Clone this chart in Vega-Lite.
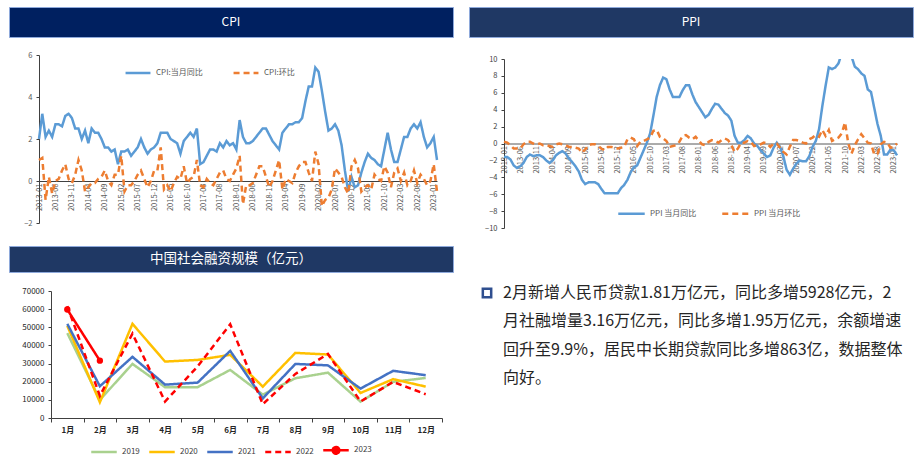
{
 "$schema": "https://vega.github.io/schema/vega-lite/v6.json",
 "padding": {"left": 8, "top": 6, "right": 0, "bottom": 0},
 "background": "white",
 "config": {"font": "Noto Sans CJK SC", "view": {"stroke": null}, "axis": {"labelFont": "Noto Sans CJK SC", "grid": false, "title": null}, "legend": {"labelFont": "Noto Sans CJK SC"}},
 "datasets": {
  "titles": [{"panel": "cpi", "title": "CPI"}, {"panel": "ppi", "title": "PPI"}, {"panel": "tsf", "title": "中国社会融资规模（亿元）"}],
  "cpi": [
   {"m":"2013-01","CPI:当月同比":2.0,"CPI:环比":1.0},{"m":"2013-02","CPI:当月同比":3.2,"CPI:环比":1.1},{"m":"2013-03","CPI:当月同比":2.1,"CPI:环比":-0.9},{"m":"2013-04","CPI:当月同比":2.4,"CPI:环比":0.2},{"m":"2013-05","CPI:当月同比":2.1,"CPI:环比":-0.6},{"m":"2013-06","CPI:当月同比":2.7,"CPI:环比":0.0},{"m":"2013-07","CPI:当月同比":2.7,"CPI:环比":0.1},{"m":"2013-08","CPI:当月同比":2.6,"CPI:环比":0.5},{"m":"2013-09","CPI:当月同比":3.1,"CPI:环比":0.8},{"m":"2013-10","CPI:当月同比":3.2,"CPI:环比":0.1},{"m":"2013-11","CPI:当月同比":3.0,"CPI:环比":-0.1},{"m":"2013-12","CPI:当月同比":2.5,"CPI:环比":0.3},
   {"m":"2014-01","CPI:当月同比":2.5,"CPI:环比":1.0},{"m":"2014-02","CPI:当月同比":2.0,"CPI:环比":0.5},{"m":"2014-03","CPI:当月同比":2.4,"CPI:环比":-0.5},{"m":"2014-04","CPI:当月同比":1.8,"CPI:环比":-0.3},{"m":"2014-05","CPI:当月同比":2.5,"CPI:环比":-0.1},{"m":"2014-06","CPI:当月同比":2.3,"CPI:环比":-0.1},{"m":"2014-07","CPI:当月同比":2.3,"CPI:环比":0.1},{"m":"2014-08","CPI:当月同比":2.0,"CPI:环比":0.2},{"m":"2014-09","CPI:当月同比":1.6,"CPI:环比":0.5},{"m":"2014-10","CPI:当月同比":1.6,"CPI:环比":0.0},{"m":"2014-11","CPI:当月同比":1.4,"CPI:环比":-0.2},{"m":"2014-12","CPI:当月同比":1.5,"CPI:环比":0.3},
   {"m":"2015-01","CPI:当月同比":0.8,"CPI:环比":0.3},{"m":"2015-02","CPI:当月同比":1.4,"CPI:环比":1.2},{"m":"2015-03","CPI:当月同比":1.4,"CPI:环比":-0.5},{"m":"2015-04","CPI:当月同比":1.5,"CPI:环比":-0.2},{"m":"2015-05","CPI:当月同比":1.2,"CPI:环比":-0.2},{"m":"2015-06","CPI:当月同比":1.4,"CPI:环比":0.0},{"m":"2015-07","CPI:当月同比":1.6,"CPI:环比":0.3},{"m":"2015-08","CPI:当月同比":2.0,"CPI:环比":0.5},{"m":"2015-09","CPI:当月同比":1.6,"CPI:环比":0.1},{"m":"2015-10","CPI:当月同比":1.3,"CPI:环比":-0.3},{"m":"2015-11","CPI:当月同比":1.5,"CPI:环比":0.0},{"m":"2015-12","CPI:当月同比":1.6,"CPI:环比":0.5},
   {"m":"2016-01","CPI:当月同比":1.8,"CPI:环比":0.5},{"m":"2016-02","CPI:当月同比":2.3,"CPI:环比":1.6},{"m":"2016-03","CPI:当月同比":2.3,"CPI:环比":-0.4},{"m":"2016-04","CPI:当月同比":2.3,"CPI:环比":-0.2},{"m":"2016-05","CPI:当月同比":2.0,"CPI:环比":-0.5},{"m":"2016-06","CPI:当月同比":1.9,"CPI:环比":-0.1},{"m":"2016-07","CPI:当月同比":1.8,"CPI:环比":0.2},{"m":"2016-08","CPI:当月同比":1.3,"CPI:环比":0.1},{"m":"2016-09","CPI:当月同比":1.9,"CPI:环比":0.7},{"m":"2016-10","CPI:当月同比":2.1,"CPI:环比":-0.1},{"m":"2016-11","CPI:当月同比":2.3,"CPI:环比":0.1},{"m":"2016-12","CPI:当月同比":2.1,"CPI:环比":0.2},
   {"m":"2017-01","CPI:当月同比":2.5,"CPI:环比":1.0},{"m":"2017-02","CPI:当月同比":0.8,"CPI:环比":-0.2},{"m":"2017-03","CPI:当月同比":0.9,"CPI:环比":-0.3},{"m":"2017-04","CPI:当月同比":1.2,"CPI:环比":0.1},{"m":"2017-05","CPI:当月同比":1.5,"CPI:环比":-0.1},{"m":"2017-06","CPI:当月同比":1.5,"CPI:环比":-0.2},{"m":"2017-07","CPI:当月同比":1.4,"CPI:环比":0.1},{"m":"2017-08","CPI:当月同比":1.8,"CPI:环比":0.4},{"m":"2017-09","CPI:当月同比":1.6,"CPI:环比":0.5},{"m":"2017-10","CPI:当月同比":1.9,"CPI:环比":0.1},{"m":"2017-11","CPI:当月同比":1.7,"CPI:环比":0.0},{"m":"2017-12","CPI:当月同比":1.8,"CPI:环比":0.3},
   {"m":"2018-01","CPI:当月同比":1.5,"CPI:环比":0.6},{"m":"2018-02","CPI:当月同比":2.9,"CPI:环比":1.2},{"m":"2018-03","CPI:当月同比":2.1,"CPI:环比":-1.1},{"m":"2018-04","CPI:当月同比":1.8,"CPI:环比":-0.2},{"m":"2018-05","CPI:当月同比":1.8,"CPI:环比":-0.2},{"m":"2018-06","CPI:当月同比":1.9,"CPI:环比":-0.1},{"m":"2018-07","CPI:当月同比":2.1,"CPI:环比":0.3},{"m":"2018-08","CPI:当月同比":2.3,"CPI:环比":0.7},{"m":"2018-09","CPI:当月同比":2.5,"CPI:环比":0.7},{"m":"2018-10","CPI:当月同比":2.5,"CPI:环比":0.2},{"m":"2018-11","CPI:当月同比":2.2,"CPI:环比":-0.3},{"m":"2018-12","CPI:当月同比":1.9,"CPI:环比":0.0},
   {"m":"2019-01","CPI:当月同比":1.7,"CPI:环比":0.5},{"m":"2019-02","CPI:当月同比":1.5,"CPI:环比":1.0},{"m":"2019-03","CPI:当月同比":2.3,"CPI:环比":-0.4},{"m":"2019-04","CPI:当月同比":2.5,"CPI:环比":0.1},{"m":"2019-05","CPI:当月同比":2.7,"CPI:环比":0.0},{"m":"2019-06","CPI:当月同比":2.7,"CPI:环比":-0.1},{"m":"2019-07","CPI:当月同比":2.8,"CPI:环比":0.4},{"m":"2019-08","CPI:当月同比":2.8,"CPI:环比":0.7},{"m":"2019-09","CPI:当月同比":3.0,"CPI:环比":0.9},{"m":"2019-10","CPI:当月同比":3.8,"CPI:环比":0.9},{"m":"2019-11","CPI:当月同比":4.5,"CPI:环比":0.4},{"m":"2019-12","CPI:当月同比":4.5,"CPI:环比":0.0},
   {"m":"2020-01","CPI:当月同比":5.4,"CPI:环比":1.4},{"m":"2020-02","CPI:当月同比":5.2,"CPI:环比":0.8},{"m":"2020-03","CPI:当月同比":4.3,"CPI:环比":-1.2},{"m":"2020-04","CPI:当月同比":3.3,"CPI:环比":-0.9},{"m":"2020-05","CPI:当月同比":2.4,"CPI:环比":-0.8},{"m":"2020-06","CPI:当月同比":2.5,"CPI:环比":-0.4},{"m":"2020-07","CPI:当月同比":2.7,"CPI:环比":0.6},{"m":"2020-08","CPI:当月同比":2.4,"CPI:环比":0.4},{"m":"2020-09","CPI:当月同比":1.7,"CPI:环比":0.2},{"m":"2020-10","CPI:当月同比":0.5,"CPI:环比":-0.3},{"m":"2020-11","CPI:当月同比":-0.5,"CPI:环比":-0.6},{"m":"2020-12","CPI:当月同比":0.2,"CPI:环比":0.7},
   {"m":"2021-01","CPI:当月同比":-0.3,"CPI:环比":1.0},{"m":"2021-02","CPI:当月同比":-0.2,"CPI:环比":0.6},{"m":"2021-03","CPI:当月同比":0.4,"CPI:环比":-0.5},{"m":"2021-04","CPI:当月同比":0.9,"CPI:环比":-0.3},{"m":"2021-05","CPI:当月同比":1.3,"CPI:环比":-0.2},{"m":"2021-06","CPI:当月同比":1.1,"CPI:环比":-0.4},{"m":"2021-07","CPI:当月同比":1.0,"CPI:环比":0.3},{"m":"2021-08","CPI:当月同比":0.8,"CPI:环比":0.1},{"m":"2021-09","CPI:当月同比":0.7,"CPI:环比":0.0},{"m":"2021-10","CPI:当月同比":1.5,"CPI:环比":0.7},{"m":"2021-11","CPI:当月同比":2.3,"CPI:环比":0.4},{"m":"2021-12","CPI:当月同比":1.5,"CPI:环比":-0.3},
   {"m":"2022-01","CPI:当月同比":0.9,"CPI:环比":0.4},{"m":"2022-02","CPI:当月同比":0.9,"CPI:环比":0.6},{"m":"2022-03","CPI:当月同比":1.5,"CPI:环比":0.0},{"m":"2022-04","CPI:当月同比":2.1,"CPI:环比":0.4},{"m":"2022-05","CPI:当月同比":2.1,"CPI:环比":-0.2},{"m":"2022-06","CPI:当月同比":2.5,"CPI:环比":0.0},{"m":"2022-07","CPI:当月同比":2.7,"CPI:环比":0.5},{"m":"2022-08","CPI:当月同比":2.5,"CPI:环比":-0.1},{"m":"2022-09","CPI:当月同比":2.8,"CPI:环比":0.3},{"m":"2022-10","CPI:当月同比":2.1,"CPI:环比":0.1},{"m":"2022-11","CPI:当月同比":1.6,"CPI:环比":-0.2},{"m":"2022-12","CPI:当月同比":1.8,"CPI:环比":0.0},
   {"m":"2023-01","CPI:当月同比":2.1,"CPI:环比":0.8},{"m":"2023-02","CPI:当月同比":1.0,"CPI:环比":-0.5}
  ],
  "ppi": [
   {"m":"2013-01","PPI 当月同比":-1.6,"PPI 当月环比":0.2},{"m":"2013-02","PPI 当月同比":-1.6,"PPI 当月环比":0.1},{"m":"2013-03","PPI 当月同比":-1.9,"PPI 当月环比":-0.2},{"m":"2013-04","PPI 当月同比":-2.6,"PPI 当月环比":-0.6},{"m":"2013-05","PPI 当月同比":-2.9,"PPI 当月环比":-0.6},{"m":"2013-06","PPI 当月同比":-2.7,"PPI 当月环比":-0.6},{"m":"2013-07","PPI 当月同比":-2.3,"PPI 当月环比":-0.1},{"m":"2013-08","PPI 当月同比":-1.6,"PPI 当月环比":0.2},{"m":"2013-09","PPI 当月同比":-1.3,"PPI 当月环比":0.2},{"m":"2013-10","PPI 当月同比":-1.5,"PPI 当月环比":0.0},{"m":"2013-11","PPI 当月同比":-1.4,"PPI 当月环比":-0.1},{"m":"2013-12","PPI 当月同比":-1.4,"PPI 当月环比":0.0},
   {"m":"2014-01","PPI 当月同比":-1.6,"PPI 当月环比":-0.2},{"m":"2014-02","PPI 当月同比":-2.0,"PPI 当月环比":-0.2},{"m":"2014-03","PPI 当月同比":-2.3,"PPI 当月环比":-0.3},{"m":"2014-04","PPI 当月同比":-2.0,"PPI 当月环比":-0.4},{"m":"2014-05","PPI 当月同比":-1.4,"PPI 当月环比":-0.1},{"m":"2014-06","PPI 当月同比":-1.1,"PPI 当月环比":0.0},{"m":"2014-07","PPI 当月同比":-0.9,"PPI 当月环比":-0.1},{"m":"2014-08","PPI 当月同比":-1.2,"PPI 当月环比":-0.2},{"m":"2014-09","PPI 当月同比":-1.8,"PPI 当月环比":-0.4},{"m":"2014-10","PPI 当月同比":-2.2,"PPI 当月环比":-0.4},{"m":"2014-11","PPI 当月同比":-2.7,"PPI 当月环比":-0.5},{"m":"2014-12","PPI 当月同比":-3.3,"PPI 当月环比":-0.6},
   {"m":"2015-01","PPI 当月同比":-4.3,"PPI 当月环比":-1.1},{"m":"2015-02","PPI 当月同比":-4.8,"PPI 当月环比":-0.7},{"m":"2015-03","PPI 当月同比":-4.6,"PPI 当月环比":-0.2},{"m":"2015-04","PPI 当月同比":-4.6,"PPI 当月环比":-0.1},{"m":"2015-05","PPI 当月同比":-4.6,"PPI 当月环比":-0.1},{"m":"2015-06","PPI 当月同比":-4.8,"PPI 当月环比":-0.3},{"m":"2015-07","PPI 当月同比":-5.4,"PPI 当月环比":-0.6},{"m":"2015-08","PPI 当月同比":-5.9,"PPI 当月环比":-0.8},{"m":"2015-09","PPI 当月同比":-5.9,"PPI 当月环比":-0.4},{"m":"2015-10","PPI 当月同比":-5.9,"PPI 当月环比":-0.4},{"m":"2015-11","PPI 当月同比":-5.9,"PPI 当月环比":-0.5},{"m":"2015-12","PPI 当月同比":-5.9,"PPI 当月环比":-0.6},
   {"m":"2016-01","PPI 当月同比":-5.3,"PPI 当月环比":-0.5},{"m":"2016-02","PPI 当月同比":-4.9,"PPI 当月环比":-0.4},{"m":"2016-03","PPI 当月同比":-4.3,"PPI 当月环比":0.5},{"m":"2016-04","PPI 当月同比":-3.4,"PPI 当月环比":0.7},{"m":"2016-05","PPI 当月同比":-2.8,"PPI 当月环比":0.5},{"m":"2016-06","PPI 当月同比":-2.6,"PPI 当月环比":-0.3},{"m":"2016-07","PPI 当月同比":-1.7,"PPI 当月环比":0.2},{"m":"2016-08","PPI 当月同比":-0.8,"PPI 当月环比":0.3},{"m":"2016-09","PPI 当月同比":0.1,"PPI 当月环比":0.5},{"m":"2016-10","PPI 当月同比":1.2,"PPI 当月环比":0.7},{"m":"2016-11","PPI 当月同比":3.3,"PPI 当月环比":1.5},{"m":"2016-12","PPI 当月同比":5.5,"PPI 当月环比":1.6},
   {"m":"2017-01","PPI 当月同比":6.9,"PPI 当月环比":0.8},{"m":"2017-02","PPI 当月同比":7.8,"PPI 当月环比":0.6},{"m":"2017-03","PPI 当月同比":7.6,"PPI 当月环比":0.3},{"m":"2017-04","PPI 当月同比":6.4,"PPI 当月环比":-0.4},{"m":"2017-05","PPI 当月同比":5.5,"PPI 当月环比":-0.3},{"m":"2017-06","PPI 当月同比":5.5,"PPI 当月环比":-0.2},{"m":"2017-07","PPI 当月同比":5.5,"PPI 当月环比":0.2},{"m":"2017-08","PPI 当月同比":6.3,"PPI 当月环比":0.9},{"m":"2017-09","PPI 当月同比":6.9,"PPI 当月环比":1.0},{"m":"2017-10","PPI 当月同比":6.9,"PPI 当月环比":0.7},{"m":"2017-11","PPI 当月同比":5.8,"PPI 当月环比":0.5},{"m":"2017-12","PPI 当月同比":4.9,"PPI 当月环比":0.8},
   {"m":"2018-01","PPI 当月同比":4.3,"PPI 当月环比":0.3},{"m":"2018-02","PPI 当月同比":3.7,"PPI 当月环比":-0.1},{"m":"2018-03","PPI 当月同比":3.1,"PPI 当月环比":-0.2},{"m":"2018-04","PPI 当月同比":3.4,"PPI 当月环比":0.2},{"m":"2018-05","PPI 当月同比":4.1,"PPI 当月环比":0.4},{"m":"2018-06","PPI 当月同比":4.7,"PPI 当月环比":0.3},{"m":"2018-07","PPI 当月同比":4.6,"PPI 当月环比":0.1},{"m":"2018-08","PPI 当月同比":4.1,"PPI 当月环比":0.4},{"m":"2018-09","PPI 当月同比":3.6,"PPI 当月环比":0.6},{"m":"2018-10","PPI 当月同比":3.3,"PPI 当月环比":0.4},{"m":"2018-11","PPI 当月同比":2.7,"PPI 当月环比":-0.2},{"m":"2018-12","PPI 当月同比":0.9,"PPI 当月环比":-1.0},
   {"m":"2019-01","PPI 当月同比":0.1,"PPI 当月环比":-0.6},{"m":"2019-02","PPI 当月同比":0.1,"PPI 当月环比":0.1},{"m":"2019-03","PPI 当月同比":0.4,"PPI 当月环比":0.1},{"m":"2019-04","PPI 当月同比":0.9,"PPI 当月环比":0.3},{"m":"2019-05","PPI 当月同比":0.6,"PPI 当月环比":0.2},{"m":"2019-06","PPI 当月同比":0.0,"PPI 当月环比":-0.3},{"m":"2019-07","PPI 当月同比":-0.3,"PPI 当月环比":-0.2},{"m":"2019-08","PPI 当月同比":-0.8,"PPI 当月环比":-0.1},{"m":"2019-09","PPI 当月同比":-1.2,"PPI 当月环比":0.1},{"m":"2019-10","PPI 当月同比":-1.6,"PPI 当月环比":0.0},{"m":"2019-11","PPI 当月同比":-1.4,"PPI 当月环比":-0.4},{"m":"2019-12","PPI 当月同比":-0.5,"PPI 当月环比":0.0},
   {"m":"2020-01","PPI 当月同比":0.1,"PPI 当月环比":0.0},{"m":"2020-02","PPI 当月同比":-0.4,"PPI 当月环比":-0.5},{"m":"2020-03","PPI 当月同比":-1.5,"PPI 当月环比":-1.0},{"m":"2020-04","PPI 当月同比":-3.1,"PPI 当月环比":-1.3},{"m":"2020-05","PPI 当月同比":-3.7,"PPI 当月环比":-0.4},{"m":"2020-06","PPI 当月同比":-3.0,"PPI 当月环比":0.4},{"m":"2020-07","PPI 当月同比":-2.4,"PPI 当月环比":0.4},{"m":"2020-08","PPI 当月同比":-2.0,"PPI 当月环比":0.3},{"m":"2020-09","PPI 当月同比":-2.1,"PPI 当月环比":0.1},{"m":"2020-10","PPI 当月同比":-2.1,"PPI 当月环比":0.0},{"m":"2020-11","PPI 当月同比":-1.5,"PPI 当月环比":0.5},{"m":"2020-12","PPI 当月同比":-0.4,"PPI 当月环比":0.7},
   {"m":"2021-01","PPI 当月同比":0.3,"PPI 当月环比":1.0},{"m":"2021-02","PPI 当月同比":1.7,"PPI 当月环比":0.8},{"m":"2021-03","PPI 当月同比":4.4,"PPI 当月环比":1.6},{"m":"2021-04","PPI 当月同比":6.8,"PPI 当月环比":0.9},{"m":"2021-05","PPI 当月同比":9.0,"PPI 当月环比":1.6},{"m":"2021-06","PPI 当月同比":8.8,"PPI 当月环比":0.3},{"m":"2021-07","PPI 当月同比":9.0,"PPI 当月环比":0.5},{"m":"2021-08","PPI 当月同比":9.5,"PPI 当月环比":0.7},{"m":"2021-09","PPI 当月同比":10.7,"PPI 当月环比":1.2},{"m":"2021-10","PPI 当月同比":13.5,"PPI 当月环比":2.5},{"m":"2021-11","PPI 当月同比":12.9,"PPI 当月环比":0.0},{"m":"2021-12","PPI 当月同比":10.3,"PPI 当月环比":-1.2},
   {"m":"2022-01","PPI 当月同比":9.1,"PPI 当月环比":-0.2},{"m":"2022-02","PPI 当月同比":8.8,"PPI 当月环比":0.5},{"m":"2022-03","PPI 当月同比":8.3,"PPI 当月环比":1.1},{"m":"2022-04","PPI 当月同比":8.0,"PPI 当月环比":0.6},{"m":"2022-05","PPI 当月同比":6.4,"PPI 当月环比":0.1},{"m":"2022-06","PPI 当月同比":6.1,"PPI 当月环比":0.0},{"m":"2022-07","PPI 当月同比":4.2,"PPI 当月环比":-1.3},{"m":"2022-08","PPI 当月同比":2.3,"PPI 当月环比":-1.2},{"m":"2022-09","PPI 当月同比":0.9,"PPI 当月环比":-0.1},{"m":"2022-10","PPI 当月同比":-1.3,"PPI 当月环比":0.2},{"m":"2022-11","PPI 当月同比":-1.3,"PPI 当月环比":0.1},{"m":"2022-12","PPI 当月同比":-0.7,"PPI 当月环比":-0.5},
   {"m":"2023-01","PPI 当月同比":-0.8,"PPI 当月环比":-0.4},{"m":"2023-02","PPI 当月同比":-1.4,"PPI 当月环比":0.0}
  ],
  "tsf": [
   {"month":"1月","2019":46800,"2020":50800,"2021":51900,"2022":61700,"2023":59800},
   {"month":"2月","2019":10000,"2020":8700,"2021":17500,"2022":12200,"2023":31600},
   {"month":"3月","2019":29800,"2020":51900,"2021":33700,"2022":46500},
   {"month":"4月","2019":17000,"2020":31100,"2021":18400,"2022":9100},
   {"month":"5月","2019":17000,"2020":32000,"2021":19500,"2022":28400},
   {"month":"6月","2019":26500,"2020":34800,"2021":37000,"2022":51700},
   {"month":"7月","2019":12900,"2020":17300,"2021":10800,"2022":7600},
   {"month":"8月","2019":21900,"2020":35900,"2021":29800,"2022":24300},
   {"month":"9月","2019":25000,"2020":35000,"2021":29000,"2022":35300},
   {"month":"10月","2019":9000,"2020":13800,"2021":16200,"2022":9100},
   {"month":"11月","2019":19900,"2020":21400,"2021":26000,"2022":19900},
   {"month":"12月","2019":22100,"2020":17300,"2021":23600,"2022":13100}
  ],
  "note": [
   {"role": "bullet", "line": 1, "text": ""},
   {"role": "text", "line": 1, "text": "2月新增人民币贷款1.81万亿元，同比多增5928亿元，2"},
   {"role": "text", "line": 2, "text": "月社融增量3.16万亿元，同比多增1.95万亿元，余额增速"},
   {"role": "text", "line": 3, "text": "回升至9.9%，居民中长期贷款同比多增863亿，数据整体"},
   {"role": "text", "line": 4, "text": "向好。"}
  ]
 },
 "spacing": 14,
 "resolve": {"scale": {"color": "independent", "strokeDash": "independent"}, "legend": {"color": "independent", "strokeDash": "independent"}},
 "hconcat": [
  {
   "spacing": 18,
   "resolve": {"scale": {"color": "independent", "strokeDash": "independent"}, "legend": {"color": "independent", "strokeDash": "independent"}},
   "vconcat": [
    {
     "spacing": 13,
     "resolve": {"scale": {"color": "independent", "strokeDash": "independent"}, "legend": {"color": "independent", "strokeDash": "independent"}},
     "vconcat": [
      {
       "width": 444, "height": 30,
       "view": {"fill": "#002060", "stroke": "#8EA9DB", "strokeWidth": 1},
       "data": {"name": "titles"},
       "transform": [{"filter": "datum.panel == 'cpi'"}],
       "mark": {"type": "text", "color": "white", "fontSize": 12, "font": "Noto Sans CJK SC"},
       "encoding": {"text": {"field": "title"}}
      },
      {
       "width": 444, "height": 168,
       "data": {"name": "cpi"},
       "transform": [{"fold": ["CPI:当月同比", "CPI:环比"], "as": ["series", "value"]}],
       "mark": {"type": "line", "strokeWidth": 2.5},
       "encoding": {
        "x": {"field": "m", "type": "ordinal", "sort": null, "scale": {"type": "point", "padding": 0, "range": [30, 428]},
              "axis": {"values": ["2013-01","2013-06","2013-11","2014-04","2014-09","2015-02","2015-07","2015-12","2016-05","2016-10","2017-03","2017-08","2018-01","2018-06","2018-11","2019-04","2019-09","2020-02","2020-07","2020-12","2021-05","2021-10","2022-03","2022-08","2023-01"],
                       "labelAngle": -90, "offset": -42, "ticks": false, "labelPadding": 2, "labelFontSize": 7.5, "labelColor": "#595959", "domainColor": "#404040", "labelOverlap": false, "labelBound": false}},
        "y": {"field": "value", "type": "quantitative", "scale": {"domain": [-2, 6], "nice": false, "zero": false},
              "axis": {"values": [-2, 0, 2, 4, 6], "offset": -30, "tickSize": 3, "tickColor": "#404040", "domainColor": "#404040", "labelFontSize": 7.5, "labelColor": "#595959", "labelPadding": 4}},
        "color": {"field": "series", "type": "nominal", "scale": {"domain": ["CPI:当月同比", "CPI:环比"], "range": ["#5B9BD5", "#ED7D31"]},
                  "legend": {"orient": "none", "legendX": 115, "legendY": 4, "direction": "horizontal", "title": null, "symbolType": "stroke", "symbolSize": 620, "symbolStrokeWidth": 2.5, "labelFontSize": 8, "labelColor": "#595959", "columnPadding": 25}},
        "strokeDash": {"field": "series", "type": "nominal", "scale": {"domain": ["CPI:当月同比", "CPI:环比"], "range": [[1, 0], [6, 4]]},
                  "legend": {"orient": "none", "legendX": 115, "legendY": 4, "direction": "horizontal", "title": null, "symbolType": "stroke", "symbolSize": 620, "symbolStrokeWidth": 2.5, "labelFontSize": 8, "labelColor": "#595959", "columnPadding": 25}}
       }
      }
     ]
    },
    {
     "spacing": 14,
     "resolve": {"scale": {"color": "independent", "strokeDash": "independent"}, "legend": {"color": "independent", "strokeDash": "independent"}},
     "vconcat": [
      {
       "width": 444, "height": 26,
       "view": {"fill": "#1F3864", "stroke": "#8EA9DB", "strokeWidth": 1},
       "data": {"name": "titles"},
       "transform": [{"filter": "datum.panel == 'tsf'"}],
       "mark": {"type": "text", "color": "white", "fontSize": 13.5, "font": "Noto Sans CJK SC"},
       "encoding": {"text": {"field": "title"}}
      },
      {
       "width": 444, "height": 127,
       "data": {"name": "tsf"},
       "transform": [{"fold": ["2019", "2020", "2021", "2022", "2023"], "as": ["year", "value"]}, {"filter": "isValid(datum.value)"}],
       "encoding": {
        "x": {"field": "month", "type": "ordinal", "sort": null, "bandPosition": 0.5, "scale": {"type": "band", "paddingInner": 0, "paddingOuter": 0, "range": [42, 433]},
              "axis": {"tickBand": "extent", "labelAngle": 0, "labelFontWeight": "bold", "labelFontSize": 8, "labelColor": "#262626", "domainColor": "#404040", "tickColor": "#404040", "tickSize": 4, "labelPadding": 4}},
        "y": {"field": "value", "type": "quantitative", "scale": {"domain": [0, 70000], "nice": false},
              "axis": {"values": [0, 10000, 20000, 30000, 40000, 50000, 60000, 70000], "format": "d", "offset": -42, "tickSize": 3, "tickColor": "#404040", "domainColor": "#404040", "labelFontSize": 8, "labelColor": "#262626", "labelPadding": 4}}
       },
       "layer": [
        {
         "mark": {"type": "line", "strokeWidth": 2.5},
         "encoding": {
          "color": {"field": "year", "type": "nominal", "scale": {"domain": ["2019", "2020", "2021", "2022", "2023"], "range": ["#A9D18E", "#FFC000", "#4472C4", "#FF0000", "#FF0000"]},
                    "legend": {"orient": "none", "legendX": 81, "legendY": 145, "direction": "horizontal", "title": null, "symbolType": "stroke", "symbolSize": 650, "symbolStrokeWidth": 2.5, "labelFontSize": 8, "labelColor": "#404040", "columnPadding": 4,
                               "encode": {"symbols": {"update": {"shape": {"signal": "datum.value === '2023' ? 'M-1,0L1,0M-0.26,0A0.26,0.26,0,1,0,0.26,0A0.26,0.26,0,1,0,-0.26,0Z' : 'stroke'"}, "fill": {"signal": "datum.value === '2023' ? '#FF0000' : 'transparent'"}}}}}},
          "strokeDash": {"field": "year", "type": "nominal", "scale": {"domain": ["2019", "2020", "2021", "2022", "2023"], "range": [[1, 0], [1, 0], [1, 0], [6, 4], [1, 0]]},
                    "legend": {"orient": "none", "legendX": 81, "legendY": 145, "direction": "horizontal", "title": null, "symbolType": "stroke", "symbolSize": 650, "symbolStrokeWidth": 2.5, "labelFontSize": 8, "labelColor": "#404040", "columnPadding": 4,
                               "encode": {"symbols": {"update": {"shape": {"signal": "datum.value === '2023' ? 'M-1,0L1,0M-0.26,0A0.26,0.26,0,1,0,0.26,0A0.26,0.26,0,1,0,-0.26,0Z' : 'stroke'"}, "fill": {"signal": "datum.value === '2023' ? '#FF0000' : 'transparent'"}}}}}}
         }
        },
        {
         "transform": [{"filter": "datum.year == '2023'"}],
         "mark": {"type": "point", "filled": true, "size": 40, "color": "#FF0000", "opacity": 1}
        }
       ]
      }
     ]
    }
   ]
  },
  {
   "spacing": 51,
   "resolve": {"scale": {"color": "independent", "strokeDash": "independent"}, "legend": {"color": "independent", "strokeDash": "independent"}},
   "vconcat": [
    {
     "spacing": 17,
     "resolve": {"scale": {"color": "independent", "strokeDash": "independent"}, "legend": {"color": "independent", "strokeDash": "independent"}},
     "vconcat": [
      {
       "width": 444, "height": 30,
       "view": {"fill": "#1F3864", "stroke": "#8EA9DB", "strokeWidth": 1},
       "data": {"name": "titles"},
       "transform": [{"filter": "datum.panel == 'ppi'"}],
       "mark": {"type": "text", "color": "white", "fontSize": 12, "font": "Noto Sans CJK SC"},
       "encoding": {"text": {"field": "title"}}
      },
      {
       "width": 444, "height": 169,
       "data": {"name": "ppi"},
       "transform": [{"fold": ["PPI 当月同比", "PPI 当月环比"], "as": ["series", "value"]}],
       "mark": {"type": "line", "strokeWidth": 2.5, "clip": true},
       "encoding": {
        "x": {"field": "m", "type": "ordinal", "sort": null, "scale": {"type": "point", "padding": 0, "range": [35, 428]},
              "axis": {"values": ["2013-01","2013-06","2013-11","2014-04","2014-09","2015-02","2015-07","2015-12","2016-05","2016-10","2017-03","2017-08","2018-01","2018-06","2018-11","2019-04","2019-09","2020-02","2020-07","2020-12","2021-05","2021-10","2022-03","2022-08","2023-01"],
                       "labelAngle": -90, "offset": -84.5, "ticks": false, "labelPadding": 2, "labelFontSize": 7.5, "labelColor": "#595959", "domainColor": "#595959", "labelOverlap": false, "labelBound": false}},
        "y": {"field": "value", "type": "quantitative", "scale": {"domain": [-10, 10], "nice": false},
              "axis": {"values": [-10, -8, -6, -4, -2, 0, 2, 4, 6, 8, 10], "offset": -35, "tickSize": 3, "tickColor": "#404040", "domainColor": "#404040", "labelFontSize": 7.5, "labelColor": "#404040", "labelPadding": 4}},
        "color": {"field": "series", "type": "nominal", "scale": {"domain": ["PPI 当月同比", "PPI 当月环比"], "range": ["#5B9BD5", "#ED7D31"]},
                  "legend": {"orient": "none", "legendX": 148, "legendY": 140, "direction": "horizontal", "title": null, "symbolType": "stroke", "symbolSize": 700, "symbolStrokeWidth": 2.5, "labelFontSize": 8, "labelColor": "#595959", "columnPadding": 20}},
        "strokeDash": {"field": "series", "type": "nominal", "scale": {"domain": ["PPI 当月同比", "PPI 当月环比"], "range": [[1, 0], [6, 4]]},
                  "legend": {"orient": "none", "legendX": 148, "legendY": 140, "direction": "horizontal", "title": null, "symbolType": "stroke", "symbolSize": 700, "symbolStrokeWidth": 2.5, "labelFontSize": 8, "labelColor": "#595959", "columnPadding": 20}}
       }
      }
     ]
    },
    {
     "width": 444, "height": 85,
     "data": {"name": "note"},
     "encoding": {
      "y": {"field": "line", "type": "ordinal", "scale": {"type": "point", "padding": 0}, "axis": null},
      "x": {"field": "role", "type": "nominal", "scale": {"type": "point", "padding": 0, "domain": ["bullet", "text"], "range": [18, 34]}, "axis": null}
     },
     "layer": [
      {
       "transform": [{"filter": "datum.role == 'text'"}],
       "mark": {"type": "text", "align": "left", "baseline": "middle", "fontSize": 16, "color": "#262626", "font": "Noto Sans CJK SC"},
       "encoding": {"text": {"field": "text"}}
      },
      {
       "transform": [{"filter": "datum.role == 'bullet'"}],
       "mark": {"type": "square", "filled": false, "size": 70, "strokeWidth": 2.5, "color": "#2F4F8F", "opacity": 1}
      }
     ]
    }
   ]
  }
 ]
}
